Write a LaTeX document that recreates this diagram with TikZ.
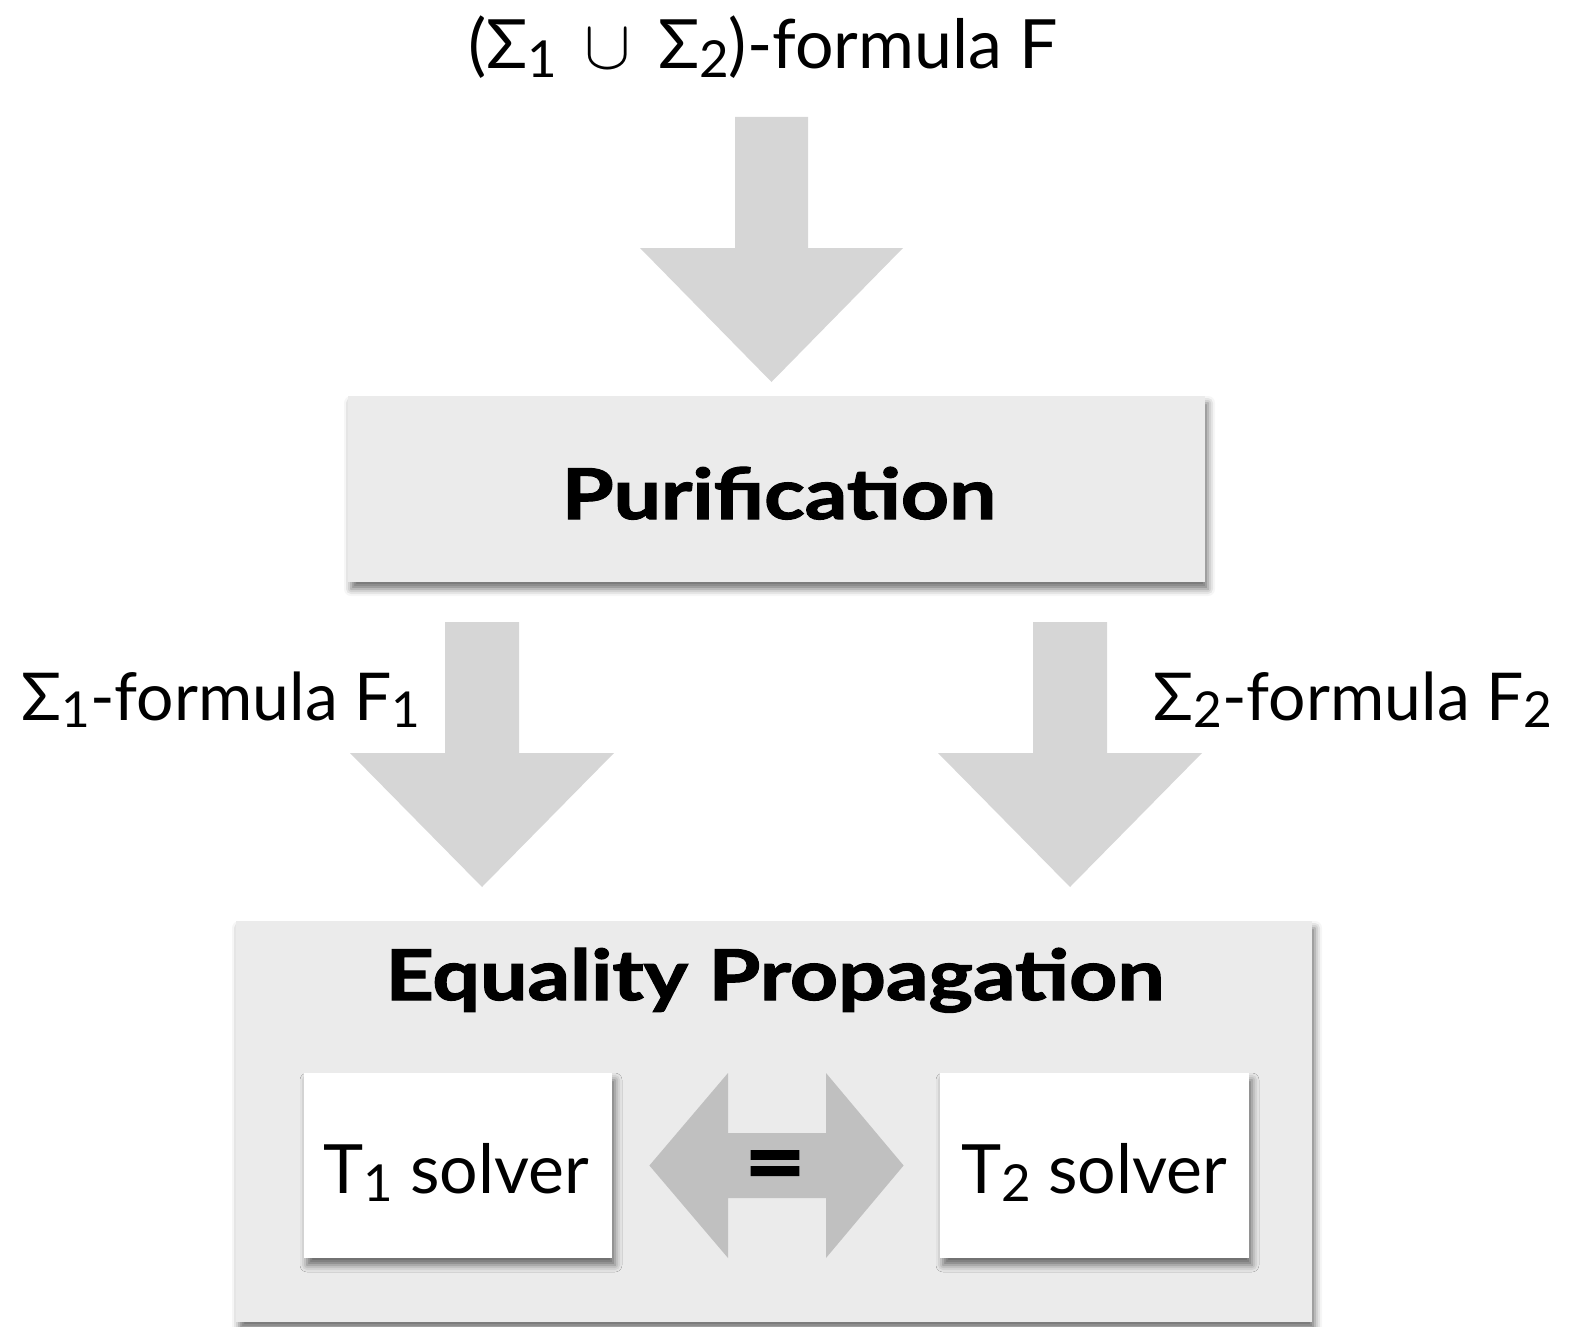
\documentclass[tikz,border=0pt]{standalone}
\usepackage{fontspec}
\usepackage{graphicx}
\setmainfont{Lato}
\newfontfamily\heavyfont{Lato}[BoldFeatures={FakeBold=1.6}]
\usetikzlibrary{shadows.blur,calc}
\definecolor{arrowgray}{HTML}{D6D6D6}
\definecolor{dblgray}{HTML}{C0C0C0}
\definecolor{boxgray}{HTML}{EBEBEB}
\newcommand{\sub}[1]{\raisebox{-0.12em}{\fontsize{0.75em}{0.75em}\selectfont #1}}
\newcommand{\wide}[1]{\scalebox{1.2}[1]{#1}}
\newcommand{\blockdown}[6]{% cx, shaft half, head half, ytop, yhead, ytip
  \fill[arrowgray] ({#1-#2},#4) -- ({#1+#2},#4) -- ({#1+#2},#5) -- ({#1+#3},#5)
    -- (#1,#6) -- ({#1-#3},#5) -- ({#1-#2},#5) -- cycle;}
\tikzset{
  shadowed/.style={blur shadow={shadow xshift=1.5pt, shadow yshift=-3.5pt, shadow blur radius=3.5pt, shadow opacity=55}},
  graybox/.style={shadowed, fill=boxgray, draw=none, inner sep=0pt},
  whitebox/.style={shadowed, fill=white, draw=none, inner sep=0pt},
  lbl/.style={anchor=base, inner sep=0pt, font=\fontsize{33pt}{36pt}\selectfont},
  boldlbl/.style={anchor=base, inner sep=0pt, font=\fontsize{35pt}{38pt}\selectfont\heavyfont\bfseries},
}
\begin{document}
\begin{tikzpicture}[x=0.5pt,y=-0.5pt]
\useasboundingbox (0,0) rectangle (1569,1327);
\begin{scope}
\clip (0,0) rectangle (1569,1327);
% top label
\node[lbl, font=\fontsize{34pt}{36pt}\selectfont] (F) at (763,69) {(Σ\sub{1}\hspace{0.4em}\scalebox{1.4}{$\cup$}\hspace{0.4em}Σ\sub{2})-formula F};
% top arrow
\blockdown{771.5}{36.5}{131.5}{117}{248}{382}
% purification
\node[graybox, minimum width=428.5pt, minimum height=93pt] (pur) at (776.5,489) {};
\node[boldlbl] (purt) at (779,519) {\wide{Purification}};
% side arrows
\blockdown{482}{37}{132}{622}{753}{887}
\blockdown{1070}{37}{132}{622}{753}{887}
\node[lbl] (F1) at (221,720) {Σ\sub{1}-formula F\sub{1}};
\node[lbl] (F2) at (1353,720) {Σ\sub{2}-formula F\sub{2}};
% equality propagation
\node[graybox, minimum width=538pt, minimum height=200.5pt] (eq) at (774,1121.5) {};
\node[boldlbl] (eqt) at (775,1000) {\wide{Equality Propagation}};
\node[whitebox, minimum width=154pt, minimum height=92.5pt] (t1) at (458,1165.5) {};
\node[whitebox, minimum width=154.5pt, minimum height=92.5pt] (t2) at (1094.5,1165.5) {};
\node[lbl, font=\fontsize{34pt}{36pt}\selectfont] (t1t) at (456,1193) {T\sub{1} solver};
\node[lbl, font=\fontsize{34pt}{36pt}\selectfont] (t2t) at (1094,1193) {T\sub{2} solver};
% double arrow
\fill[dblgray] ($(t1.east)+(37,0)$) coordinate (la) -- (728,1073) -- (728,1133) -- (826,1133) -- (826,1073)
  -- ($(t2.west)+(-36,0)$) coordinate (ra) -- (826,1258) -- (826,1198) -- (728,1198) -- (728,1258) -- cycle;
\node[boldlbl, font=\fontsize{46pt}{48pt}\selectfont\heavyfont\bfseries] (eqsign) at (775,1194) {\scalebox{1.15}[1]{=}};
\end{scope}
\end{tikzpicture}
\end{document}
